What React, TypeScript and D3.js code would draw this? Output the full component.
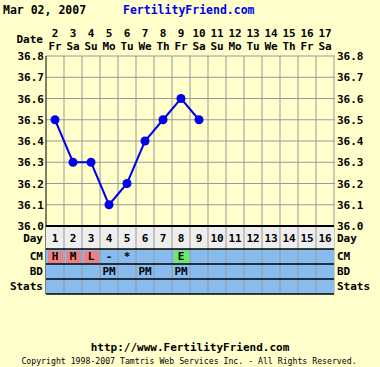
import * as d3 from "d3";

const title = "Mar 02, 2007";
const siteName = "FertilityFriend.com";
const cycleDays = d3.range(1, 17);
const dates = ["2", "3", "4", "5", "6", "7", "8", "9", "10", "11", "12", "13", "14", "15", "16", "17"];
const weekdays = ["Fr", "Sa", "Su", "Mo", "Tu", "We", "Th", "Fr", "Sa", "Su", "Mo", "Tu", "We", "Th", "Fr", "Sa"];
const temps = [36.5, 36.3, 36.3, 36.1, 36.2, 36.4, 36.5, 36.6, 36.5];
const yTicks = [36.0, 36.1, 36.2, 36.3, 36.4, 36.5, 36.6, 36.7, 36.8];
const cm = ["H", "M", "L", "-", "*", "", "", "E"];
const cmKind = ["fertile", "fertile", "fertile", "", "", "", "", "egg"];
const bd = ["", "", "", "PM", "", "PM", "", "PM"];
const rowLabels = ["CM", "BD", "Stats"];

const font = "'DejaVu Sans Mono', monospace";
const bg = "#FFFFCC";

const App = () => {
  const width = 380;
  const height = 367;
  const left = 46;
  const right = 334;
  const top = 56;
  const base = 226;

  const x = d3.scaleBand<number>().domain(cycleDays).range([left, right]);
  const y = d3.scaleLinear().domain([36.0, 36.8]).range([base, top]);
  const cx = (d: number) => (x(d) ?? 0) + x.bandwidth() / 2;

  const line = d3
    .line<number>()
    .x((_, i) => cx(i + 1))
    .y((d) => y(d));

  // table rows
  const dayRow = { y0: base, y1: 248 };
  const rows = [249, 264, 279, 294];

  return (
    <svg
      width={width}
      height={height}
      style={{ position: "absolute", left: 0, top: 0, background: bg }}
      fontFamily={font}
      fontWeight="bold"
      fontSize={11}
    >
      <rect width={width} height={height} fill={bg} />
      <text x={3} y={14} fontSize={11.5}>{title}</text>
      <text x={123} y={14} fill="#0000EE" fontSize={11.5}>{siteName}</text>

      {/* header */}
      <text x={43} y={43} textAnchor="end">Date</text>
      {cycleDays.map((d, i) => (
        <g key={d}>
          <text x={cx(d)} y={37} textAnchor="middle">{dates[i]}</text>
          <text x={cx(d)} y={50} textAnchor="middle">{weekdays[i]}</text>
        </g>
      ))}

      {/* grid */}
      {yTicks.slice(1).map((t) => (
        <line key={t} x1={left} x2={right + 1} y1={y(t)} y2={y(t)} stroke="#999" />
      ))}
      {cycleDays.slice(1).map((d) => (
        <line key={d} x1={x(d)} x2={x(d)} y1={top} y2={base} stroke="#999" />
      ))}
      <line x1={right} x2={right} y1={top} y2={rows[3]} stroke="#999" />
      <line x1={left} x2={left} y1={top} y2={rows[3]} stroke="#000" />

      {/* y labels */}
      {yTicks.map((t) => (
        <g key={t}>
          <text x={44} y={y(t) + 4} textAnchor="end">{t.toFixed(1)}</text>
          <text x={337} y={y(t) + 4}>{t.toFixed(1)}</text>
        </g>
      ))}

      {/* day row */}
      <rect x={left} y={dayRow.y0} width={right - left} height={dayRow.y1 - dayRow.y0} fill="#EEEEEE" />
      <text x={43} y={242} textAnchor="end">Day</text>
      <text x={337} y={242}>Day</text>
      {cycleDays.map((d) => (
        <text key={d} x={cx(d)} y={242} textAnchor="middle">{d}</text>
      ))}

      {/* CM / BD / Stats rows */}
      <rect x={left} y={rows[0]} width={right - left} height={rows[3] - rows[0]} fill="#88BBEE" />
      {rowLabels.map((l, i) => (
        <g key={l}>
          <text x={43} y={rows[i] + 11} textAnchor="end">{l}</text>
          <text x={337} y={rows[i] + 11}>{l}</text>
        </g>
      ))}
      {cm.map((c, i) =>
        cmKind[i] ? (
          <rect
            key={"r" + i}
            x={(x(i + 1) ?? 0) + 2}
            y={rows[0] + 2}
            width={x.bandwidth() - 3}
            height={12}
            fill={cmKind[i] === "egg" ? "#66EE66" : "#F08080"}
          />
        ) : null
      )}
      {cm.map((c, i) => (
        <text key={"c" + i} x={cx(i + 1)} y={rows[0] + 11} textAnchor="middle">{c}</text>
      ))}
      {bd.map((c, i) => (
        <text key={"b" + i} x={cx(i + 1)} y={rows[1] + 11} textAnchor="middle">{c}</text>
      ))}
      {cycleDays.slice(1).map((d) => (
        <line key={d} x1={x(d)} x2={x(d)} y1={base} y2={rows[3]} stroke="#999" />
      ))}
      <line x1={left} x2={right} y1={base} y2={base} stroke="#000" strokeWidth={2} />
      {rows.map((r) => (
        <line key={r} x1={left} x2={right} y1={r} y2={r} stroke="#000" strokeWidth={1.5} />
      ))}

      {/* temperatures */}
      <path d={line(temps) ?? ""} fill="none" stroke="#0000EE" strokeWidth={2} />
      {temps.map((t, i) => (
        <circle key={i} cx={cx(i + 1)} cy={y(t)} r={4.5} fill="#0000EE" />
      ))}

      {/* footer */}
      <text x={190} y={351} textAnchor="middle">http://www.FertilityFriend.com</text>
      <text x={189} y={364} textAnchor="middle" fontSize={8.2} fontWeight="normal">
        Copyright 1998-2007 Tamtris Web Services Inc. - All Rights Reserved.
      </text>
    </svg>
  );
};

export default App;
